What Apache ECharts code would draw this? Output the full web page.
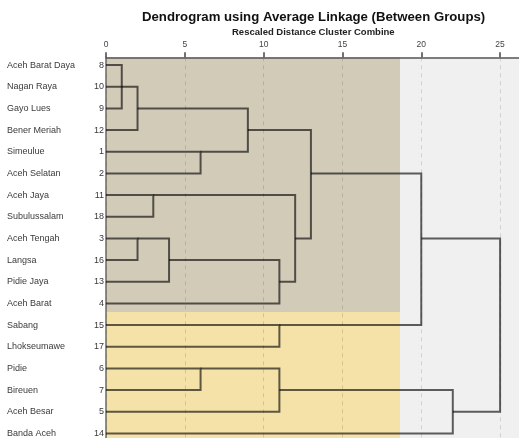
<!DOCTYPE html>
<html>
<head>
<meta charset="utf-8">
<script src="https://cdn.jsdelivr.net/npm/echarts@6/dist/echarts.min.js"></script>
<style>
  html, body { margin: 0; padding: 0; background: #fff; }
  #main { width: 519px; height: 438px; }
</style>
</head>
<body>
<div id="main"></div>
<script>
// rows top to bottom, with the case number printed next to each name
const names = ['Aceh Barat Daya', 'Nagan Raya', 'Gayo Lues', 'Bener Meriah', 'Simeulue', 'Aceh Selatan',
  'Aceh Jaya', 'Subulussalam', 'Aceh Tengah', 'Langsa', 'Pidie Jaya', 'Aceh Barat',
  'Sabang', 'Lhokseumawe', 'Pidie', 'Bireuen', 'Aceh Besar', 'Banda Aceh'];
const caseNums = [8, 10, 9, 12, 1, 2, 11, 18, 3, 16, 13, 4, 15, 17, 6, 7, 5, 14];

// merges: [child a, child b, rescaled distance]
// 0..17 are rows, 18 + k is the k-th merge below
const merges = [
  [0, 2, 1],
  [18, 1, 1],
  [19, 3, 2],
  [4, 5, 6],
  [20, 21, 9],
  [6, 7, 3],
  [8, 9, 2],
  [24, 10, 4],
  [25, 11, 11],
  [23, 26, 12],
  [22, 27, 13],
  [12, 13, 11],
  [14, 15, 6],
  [30, 16, 11],
  [31, 17, 22],
  [28, 29, 20],
  [33, 32, 25]
];
const tickValues = [0, 5, 10, 15, 20, 25];

// shaded cluster areas: [x from, x to, row from, row to]
const bands = [
  [0, 18.65, -0.36, 11.4],
  [0, 18.65, 11.4, 17.21],
  [18.65, 26.2, -0.36, 17.21]
];
const bandColors = ['#D1CBB8', '#F5E2A8', '#F0F0F0'];

// work out where each cluster line comes out (SPSS style: middle row, rounded down)
const n = names.length;
const anchor = [], start = [];
for (let i = 0; i < n; i++) { anchor[i] = i; start[i] = 0; }
const links = merges.map(function (m, k) {
  const a = m[0], b = m[1], h = m[2];
  anchor[n + k] = Math.floor((anchor[a] + anchor[b]) / 2);
  start[n + k] = h;
  return [start[a], anchor[a], h, anchor[b], start[b]];
});

const font = "'Liberation Sans', Arial, sans-serif";

let option = {
  animation: false,
  title: [{
    text: 'Dendrogram using Average Linkage (Between Groups)',
    left: 142,
    top: 11.3,
    padding: 0,
    textStyle: { fontFamily: font, fontSize: 13.2, fontWeight: 'bold', color: '#111' }
  }, {
    text: 'Rescaled Distance Cluster Combine',
    left: 232,
    top: 27.6,
    padding: 0,
    textStyle: { fontFamily: font, fontSize: 9.5, fontWeight: 'bold', color: '#222' }
  }],
  grid: { left: 106, right: 0, top: 57.3, bottom: 0 },
  xAxis: {
    type: 'value',
    position: 'top',
    min: 0,
    max: 26.2,
    interval: 5,
    z: 3,
    axisLine: { onZero: false, lineStyle: { color: '#555', width: 1.5 } },
    axisTick: { show: true, length: 5, lineStyle: { color: '#444', width: 1.5 } },
    axisLabel: {
      margin: 8,
      fontSize: 8.5,
      fontFamily: font,
      color: '#444',
      showMaxLabel: false,
      formatter: function (v) { return tickValues.indexOf(v) >= 0 ? String(v) : ''; }
    },
    splitLine: { show: true, lineStyle: { color: 'rgba(0,0,0,0.13)', width: 1, type: [4, 4] } }
  },
  yAxis: {
    type: 'value',
    inverse: true,
    min: -0.36,
    max: 17.21,
    z: 3,
    splitLine: { show: false },
    axisTick: { show: false },
    axisLine: { show: true, onZero: false, lineStyle: { color: '#6a6a60', width: 1.5 } },
    axisLabel: {
      customValues: names.map(function (_, i) { return i; }),
      margin: 2,
      formatter: function (v) { return '{n|' + names[v] + '}{c|' + caseNums[v] + '}'; },
      rich: {
        n: { width: 86, align: 'left', fontSize: 9, fontFamily: font, color: '#3a3a3a' },
        c: { width: 11, align: 'right', fontSize: 9, fontFamily: font, color: '#3a3a3a' }
      }
    }
  },
  series: [{
    type: 'custom',
    z: 1,
    silent: true,
    data: bands,
    encode: { x: [0, 1], y: [2, 3] },
    renderItem: function (params, api) {
      const p0 = api.coord([api.value(0), api.value(2)]);
      const p1 = api.coord([api.value(1), api.value(3)]);
      return {
        type: 'rect',
        shape: { x: p0[0], y: p0[1], width: p1[0] - p0[0], height: p1[1] - p0[1] },
        style: { fill: bandColors[params.dataIndex] }
      };
    }
  }, {
    type: 'custom',
    z: 5,
    data: links,
    encode: { x: [0, 2, 4], y: [1, 3] },
    renderItem: function (params, api) {
      const pts = [
        [api.value(0), api.value(1)],
        [api.value(2), api.value(1)],
        [api.value(2), api.value(3)],
        [api.value(4), api.value(3)]
      ].map(function (d) { return api.coord(d); });
      return {
        type: 'polyline',
        shape: { points: pts },
        style: { stroke: 'rgba(0,0,0,0.62)', lineWidth: 2, fill: null }
      };
    }
  }]
};

let myChart = echarts.init(document.getElementById('main'));
myChart.setOption(option);
</script>
</body>
</html>
